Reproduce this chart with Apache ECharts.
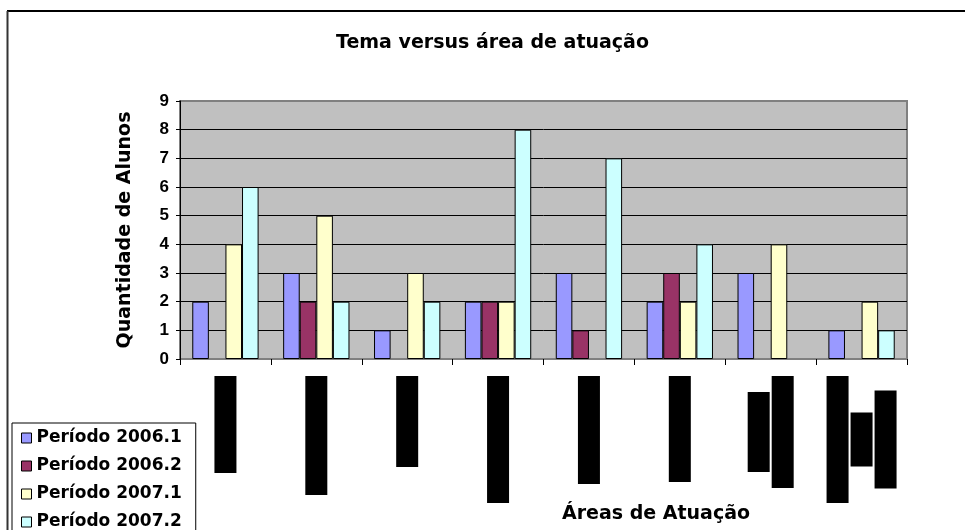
<!DOCTYPE html>
<html>
<head>
<meta charset="utf-8">
<script src="https://cdn.jsdelivr.net/npm/echarts@6/dist/echarts.min.js"></script>
<style>html,body{margin:0;padding:0;background:#fff;}#c{width:965px;height:530px;}</style>
</head>
<body>
<div id="c"></div>
<script>
// ---- data ----
const categories = ['Área 1', 'Área 2', 'Área 3', 'Área 4', 'Área 5', 'Área 6', 'Área 7', 'Área 8'];
const seriesNames = ['Período 2006.1', 'Período 2006.2', 'Período 2007.1', 'Período 2007.2'];
const p2006_1 = [2, 3, 1, 2, 3, 2, 3, 1];
const p2006_2 = [0, 2, 0, 2, 1, 3, 0, 0];
const p2007_1 = [4, 5, 3, 2, 0, 2, 4, 2];
const p2007_2 = [6, 2, 2, 8, 7, 4, 0, 1];
const yTicks = [0, 1, 2, 3, 4, 5, 6, 7, 8, 9];

// ---- style (category labels are redacted in the reference: black bars per text line, lengths in px) ----
const redactionLengths = [[97], [119], [91], [127], [108], [106], [80, 112], [127, 54, 98]];
const colors = ['#9999FF', '#993366', '#FFFFCC', '#CCFFFF'];

const rich = {};
redactionLengths.flat().forEach(len => {
  rich['r' + len] = { width: len, height: 22, lineHeight: 24, backgroundColor: '#000', color: '#000', fontSize: 8, align: 'center' };
});

const allData = [p2006_1, p2006_2, p2007_1, p2007_2];
const series = allData.map((arr, i) => ({
  name: seriesNames[i],
  type: 'bar',
  data: arr.map(v => (v === 0 ? '-' : v)),
  barGap: '0%',
  barCategoryGap: '27%',
  itemStyle: { color: colors[i], borderColor: '#000', borderWidth: 1 }
}));

const chart = echarts.init(document.getElementById('c'), null, { renderer: 'canvas' });
chart.setOption({
  animation: false,
  backgroundColor: '#fff',
  title: [
    { text: 'Tema versus área de atuação', left: 331, top: 29,
      textStyle: { fontFamily: 'DejaVu Sans', fontWeight: 'bold', fontSize: 19, color: '#000' } },
    { text: 'Áreas de Atuação', left: 557, top: 500,
      textStyle: { fontFamily: 'DejaVu Sans', fontWeight: 'bold', fontSize: 19, color: '#000' } }
  ],
  graphic: [
    { type: 'line', z: -1, shape: { x1: 7, y1: 11, x2: 965, y2: 11 }, style: { stroke: '#000', lineWidth: 2 } },
    { type: 'line', z: -1, shape: { x1: 7.5, y1: 11, x2: 7.5, y2: 530 }, style: { stroke: '#333', lineWidth: 2 } }
  ],
  legend: {
    orient: 'vertical',
    left: 12, top: 423, height: 120, width: 170,
    padding: [5, 14, 5, 9],
    itemWidth: 10, itemHeight: 10, itemGap: 8,
    borderColor: '#000', borderWidth: 1, backgroundColor: '#fff',
    icon: 'rect',
    itemStyle: { borderColor: '#000', borderWidth: 1 },
    textStyle: { fontFamily: 'DejaVu Sans', fontWeight: 'bold', fontSize: 17, lineHeight: 20, color: '#000' },
    data: seriesNames
  },
  grid: {
    left: 180, right: 58, top: 101, bottom: 171,
    show: true, backgroundColor: '#C0C0C0', borderColor: '#808080', borderWidth: 2
  },
  xAxis: {
    type: 'category',
    data: categories,
    axisLine: { show: true, lineStyle: { color: '#808080', width: 1 } },
    axisTick: { show: true, length: 6, lineStyle: { color: '#000' } },
    axisLabel: {
      interval: 0, rotate: 90, margin: 17,
      formatter: (value, idx) => redactionLengths[idx].map(len => '{r' + len + '|' + value + '}').join('\n'),
      rich: rich
    }
  },
  yAxis: {
    type: 'value',
    min: yTicks[0], max: yTicks[yTicks.length - 1], interval: 1,
    name: 'Quantidade de Alunos',
    nameLocation: 'middle', nameRotate: 90, nameGap: 45,
    nameTextStyle: { fontFamily: 'DejaVu Sans', fontWeight: 'bold', fontSize: 19, color: '#000' },
    axisLine: { show: true, lineStyle: { color: '#000', width: 1 } },
    axisTick: { show: true, length: 4, lineStyle: { color: '#000' } },
    axisLabel: { margin: 11, fontFamily: 'Liberation Sans', fontWeight: 'bold', fontSize: 17, color: '#000' },
    splitLine: { show: true, showMinLine: false, showMaxLine: false, lineStyle: { color: '#000', width: 1 } }
  },
  series: series
});
</script>
</body>
</html>
